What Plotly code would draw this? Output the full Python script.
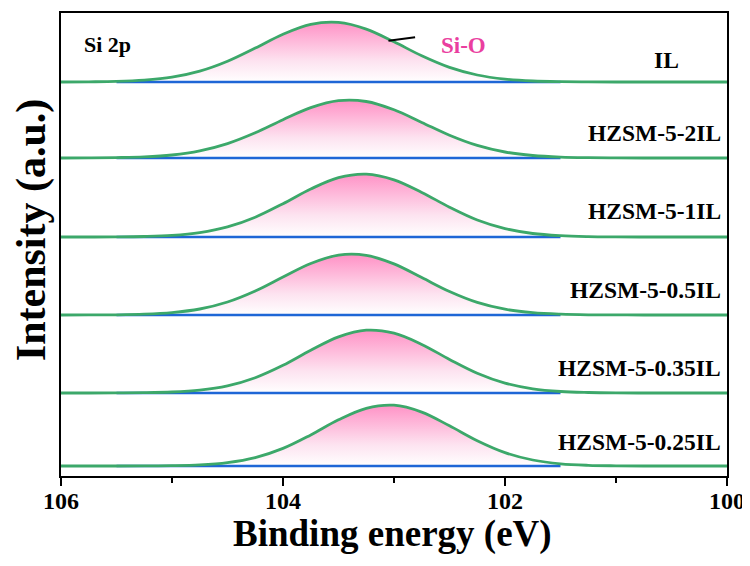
import plotly.graph_objects as go

# Binding energy grid (eV)
ENERGY = [106.0, 105.75, 105.5, 105.25, 105.0, 104.75, 104.5, 104.25, 104.0, 103.75,
          103.5, 103.25, 103.0, 102.75, 102.5, 102.25, 102.0, 101.75, 101.5, 101.25,
          101.0, 100.75, 100.5, 100.25, 100.0]

SAMPLES = ["IL", "HZSM-5-2IL", "HZSM-5-1IL", "HZSM-5-0.5IL", "HZSM-5-0.35IL", "HZSM-5-0.25IL"]

# Si-O fitted component intensity above background (a.u.)
SIO_IL = [0, 0.2, 0.6, 1.9, 4.8, 10.8, 20.7, 33.9, 47.8, 57.7, 59.6, 52.9, 40.2, 26.2,
          14.6, 7.0, 2.9, 1.0, 0.3, 0.1, 0, 0, 0, 0, 0]
SIO_2IL = [0, 0.1, 0.4, 1.1, 3.0, 7.1, 14.4, 25.2, 38.3, 50.3, 57.3, 56.5, 48.2, 35.6,
           22.8, 12.6, 6.0, 2.5, 0.9, 0.3, 0.1, 0, 0, 0, 0]
SIO_1IL = [0, 0, 0.1, 0.5, 1.6, 4.4, 10.1, 19.8, 33.3, 48.0, 59.4, 62.9, 57.2, 44.6,
           29.8, 17.0, 8.4, 3.5, 1.3, 0.4, 0.1, 0, 0, 0, 0]
SIO_05IL = [0, 0.1, 0.2, 0.8, 2.4, 6.0, 13.0, 24.0, 38.0, 51.5, 59.9, 59.7, 51.1, 37.4,
            23.5, 12.6, 5.8, 2.3, 0.8, 0.2, 0.1, 0, 0, 0, 0]
SIO_035IL = [0, 0, 0.1, 0.3, 1.0, 2.9, 7.2, 15.3, 27.7, 42.7, 56.1, 62.8, 59.8, 48.6,
             33.6, 19.8, 9.9, 4.2, 1.5, 0.5, 0.1, 0, 0, 0, 0]
SIO_025IL = [0, 0, 0, 0.1, 0.3, 1.1, 3.4, 8.4, 17.6, 31.1, 46.2, 57.7, 60.8, 53.9,
             40.2, 25.3, 13.4, 6.0, 2.2, 0.7, 0.2, 0, 0, 0, 0]
SERIES = [SIO_IL, SIO_2IL, SIO_1IL, SIO_05IL, SIO_035IL, SIO_025IL]

# background region (eV)
BG_RANGE = [105.5, 101.5]

# vertical stacking offsets of each spectrum
OFFSETS = [394, 318, 239, 161, 83, 10]
LABEL_Y = [416, 343, 265, 186, 108, 34]
LABEL_X = [100.41, 100.04, 100.04, 100.04, 100.04, 100.04]

GREEN = "#3ca86a"
BLUE = "#1e66d6"
PINK_TXT = "#ea3f9f"
FONT = "Liberation Serif"

fig = go.Figure()
for vals, off in zip(SERIES, OFFSETS):
    base = [off for _ in ENERGY]
    top = [off + v for v in vals]
    fig.add_trace(go.Scatter(x=ENERGY, y=base, mode="lines", line=dict(width=0),
                             hoverinfo="skip", showlegend=False))
    fig.add_trace(go.Scatter(x=ENERGY, y=top, mode="lines", fill="tonexty",
                             line=dict(width=0, shape="spline", smoothing=1),
                             fillgradient=dict(type="vertical",
                                               colorscale=[[0, "rgba(255,255,255,1)"],
                                                           [0.35, "#fde3f0"],
                                                           [1, "#ff92c6"]],
                                               start=off, stop=off + max(vals)),
                             hoverinfo="skip", showlegend=False))
    fig.add_trace(go.Scatter(x=BG_RANGE, y=[off, off], mode="lines",
                             line=dict(color=BLUE, width=2.6), showlegend=False))
    fig.add_trace(go.Scatter(x=ENERGY, y=top, mode="lines",
                             line=dict(color=GREEN, width=2.8, shape="spline", smoothing=1),
                             showlegend=False))

bold = dict(family=FONT, color="black", weight="bold")

for name, x, y in zip(SAMPLES, LABEL_X, LABEL_Y):
    fig.add_annotation(x=x, y=y, xref="x", yref="y", text=name, showarrow=False,
                       xanchor="right", yanchor="middle", font=dict(bold, size=23.5))

fig.add_annotation(x=105.81, y=432, xref="x", yref="y", text="Si 2p", showarrow=False,
                   xanchor="left", yanchor="middle", font=dict(bold, size=22))
fig.add_annotation(x=102.37, y=431, xref="x", yref="y", text="Si-O", showarrow=False,
                   xanchor="center", yanchor="middle",
                   font=dict(family=FONT, color=PINK_TXT, weight="bold", size=23))
fig.add_shape(type="line", x0=103.05, y0=435.3, x1=102.81, y1=438.7, xref="x", yref="y",
              line=dict(color="black", width=2))

fig.add_annotation(x=-0.045, y=0.531, xref="paper", yref="paper", text="Intensity (a.u.)",
                   showarrow=False, textangle=-90, xanchor="center", yanchor="middle",
                   font=dict(bold, size=42))
fig.add_annotation(x=0.497, y=-0.126, xref="paper", yref="paper", text="Binding energy (eV)",
                   showarrow=False, xanchor="center", yanchor="middle",
                   font=dict(bold, size=37))

# the page body adds an 8px margin, so the figure is 8px smaller on each side
fig.update_layout(
    width=742, height=558,
    margin=dict(l=53, r=23, t=5, b=90, autoexpand=False),
    plot_bgcolor="white", paper_bgcolor="white",
    xaxis=dict(range=[106, 100], tickvals=[106, 104, 102, 100],
               ticktext=["106", "104", "102", "100"],
               ticks="outside", ticklen=8, tickwidth=2, tickcolor="black",
               minor=dict(tickvals=[105, 103, 101], ticks="outside", ticklen=5,
                          tickwidth=2, tickcolor="black"),
               showline=True, linewidth=2, linecolor="black", mirror=True,
               showgrid=False, zeroline=False, automargin=False,
               ticklabelstandoff=-6,
               tickfont=dict(bold, size=24)),
    yaxis=dict(range=[0, 463], showticklabels=False, ticks="",
               showline=True, linewidth=2, linecolor="black", mirror=True,
               showgrid=False, zeroline=False, automargin=False),
)

fig.write_html("out.html")
